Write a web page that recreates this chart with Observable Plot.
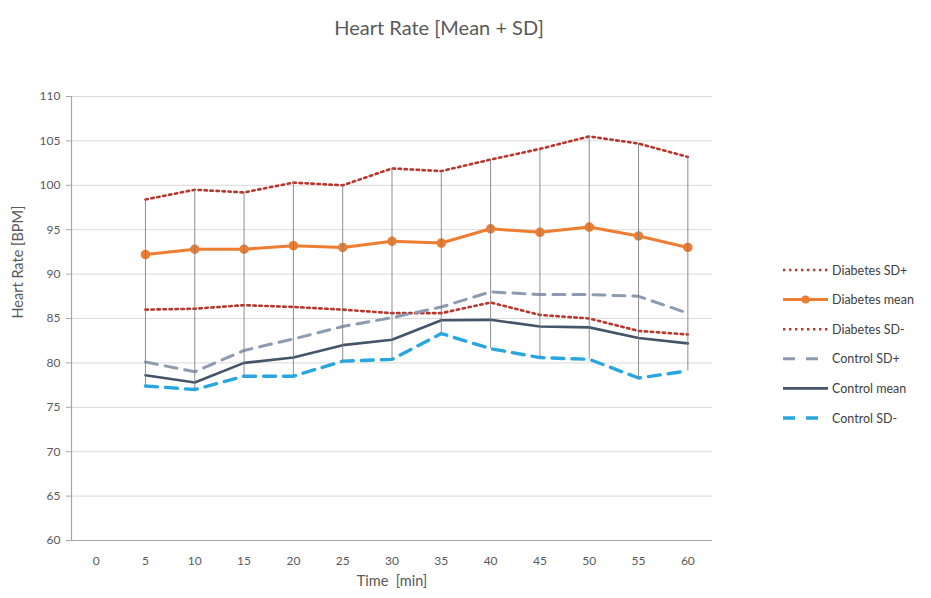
<!DOCTYPE html>
<html>
<head>
<meta charset="utf-8">
<script src="https://cdn.jsdelivr.net/npm/d3@7"></script>
<script src="https://cdn.jsdelivr.net/npm/@observablehq/plot@0.6"></script>
<style>
  body { margin: 0; background: #fff; }
  #wrap { position: relative; width: 931px; height: 598px; font-family: Lato, "Open Sans", sans-serif; }
  #legend { position: absolute; left: 780px; top: 258px; }
</style>
</head>
<body>
<div id="wrap"><div id="chart"></div><div id="legend"></div></div>
<script>
const title = "Heart Rate [Mean + SD]";
const yLabel = "Heart Rate [BPM]";
const xLabel = "Time\u00a0 [min]";
const xTicks = [0, 5, 10, 15, 20, 25, 30, 35, 40, 45, 50, 55, 60];
const yTicks = [60, 65, 70, 75, 80, 85, 90, 95, 100, 105, 110];
const times = [5, 10, 15, 20, 25, 30, 35, 40, 45, 50, 55, 60];

const diabetesSDplus  = [98.4, 99.5, 99.2, 100.3, 100.0, 101.9, 101.6, 102.9, 104.1, 105.5, 104.7, 103.2];
const diabetesMean    = [92.2, 92.8, 92.8, 93.2, 93.0, 93.7, 93.5, 95.1, 94.7, 95.3, 94.3, 93.0];
const diabetesSDminus = [86.0, 86.1, 86.5, 86.3, 86.0, 85.6, 85.6, 86.8, 85.4, 85.0, 83.6, 83.2];
const controlSDplus   = [80.1, 79.0, 81.4, 82.7, 84.1, 85.1, 86.3, 88.0, 87.7, 87.7, 87.5, 85.6];
const controlMean     = [78.6, 77.8, 80.0, 80.6, 82.0, 82.6, 84.8, 84.85, 84.1, 84.0, 82.8, 82.2];
const controlSDminus  = [77.4, 77.0, 78.5, 78.5, 80.2, 80.4, 83.3, 81.6, 80.6, 80.4, 78.3, 79.1];

const seriesNames = ["Diabetes SD+", "Diabetes mean", "Diabetes SD-", "Control SD+", "Control mean", "Control SD-"];
const seriesValues = [diabetesSDplus, diabetesMean, diabetesSDminus, controlSDplus, controlMean, controlSDminus];

const styles = {
  "Diabetes SD+":  {stroke: "#b8362b", strokeWidth: 2.6, strokeDasharray: "2.4,3.6"},
  "Diabetes mean": {stroke: "#ed7d31", strokeWidth: 3},
  "Diabetes SD-":  {stroke: "#b8362b", strokeWidth: 2.6, strokeDasharray: "2.4,3.6"},
  "Control SD+":   {stroke: "#8d9bb0", strokeWidth: 3, strokeDasharray: "12,8"},
  "Control mean":  {stroke: "#44546a", strokeWidth: 2.6},
  "Control SD-":   {stroke: "#29a6de", strokeWidth: 3.4, strokeDasharray: "12,8"}
};

const rows = seriesNames.flatMap((name, s) => times.map((t, i) => ({series: name, time: t, value: seriesValues[s][i]})));
const ranges = times.map((t, i) => ({time: t, lo: controlSDminus[i], hi: diabetesSDplus[i]}));

const lineMarks = seriesNames.map(name =>
  Plot.line(rows.filter(d => d.series === name), {x: "time", y: "value", ...styles[name], strokeLinejoin: "round"})
);

const chart = Plot.plot({
  width: 931,
  height: 598,
  marginLeft: 71,
  marginRight: 219,
  marginTop: 96,
  marginBottom: 58,
  style: {fontFamily: "Lato, 'Open Sans', sans-serif", fontSize: "12px", color: "#595959", background: "#fff"},
  x: {domain: [-2.5, 62.5]},
  y: {domain: [60, 110]},
  marks: [
    Plot.gridY(yTicks.slice(1), {stroke: "#d9d9d9", strokeOpacity: 1}),
    ...lineMarks,
    Plot.dot(rows.filter(d => d.series === "Diabetes mean"), {x: "time", y: "value", r: 4, fill: "#ed7d31", stroke: "#ed7d31"}),
    Plot.ruleX(ranges, {x: "time", y1: "lo", y2: "hi", stroke: "#7a7a7a", strokeWidth: 1, strokeOpacity: 0.85}),
    Plot.ruleY([60], {stroke: "#a6a6a6", strokeWidth: 1.2}),
    Plot.ruleX([-2.5], {stroke: "#a6a6a6", strokeWidth: 1.2}),
    Plot.axisY({ticks: yTicks, tickSize: 5, tickPadding: 6, label: null, stroke: "#a6a6a6"}),
    Plot.axisX({ticks: xTicks, tickSize: 0, tickPadding: 16, label: null}),
    Plot.text([yLabel], {text: d => d, frameAnchor: "left", dx: -53, rotate: -90, fontSize: 14.5, fill: "#595959"}),
    Plot.text([xLabel], {text: d => d, frameAnchor: "bottom", dy: 45, fontSize: 14.5, fill: "#595959"}),
    Plot.text([title], {text: d => d, frameAnchor: "top", dy: -76, dx: 47, fontSize: 20, fill: "#595959"})
  ]
});
document.getElementById("chart").append(chart);

// Legend
const lw = 151, rowH = 29.6;
const lg = d3.select("#legend").append("svg").attr("width", lw).attr("height", rowH * seriesNames.length + 10);
seriesNames.forEach((name, i) => {
  const y = 12 + i * rowH;
  const st = styles[name];
  lg.append("line").attr("x1", 3).attr("x2", 48).attr("y1", y).attr("y2", y)
    .attr("stroke", st.stroke).attr("stroke-width", st.strokeWidth)
    .attr("stroke-dasharray", st.strokeDasharray ? (name.startsWith("Control") ? "12,11" : st.strokeDasharray) : null);
  if (name === "Diabetes mean") lg.append("circle").attr("cx", 25.5).attr("cy", y).attr("r", 4).attr("fill", st.stroke);
  lg.append("text").attr("x", 52).attr("y", y + 4.5).attr("font-size", 12.5).attr("fill", "#404040")
    .attr("font-family", "Lato, 'Open Sans', sans-serif").text(name);
});
</script>
</body>
</html>
